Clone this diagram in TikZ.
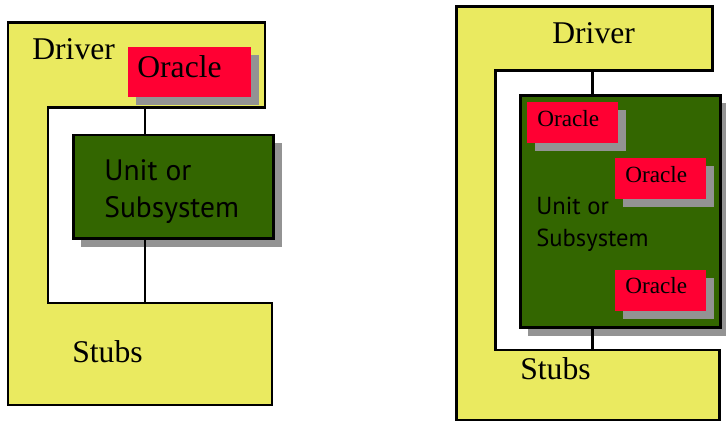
\documentclass[tikz,border=0pt]{standalone}
\usepackage{fontspec}
\setmainfont{Liberation Serif}
\newfontfamily\unitfont{PT Sans}
\usetikzlibrary{shadows}
\definecolor{drvyellow}{RGB}{234,234,96}
\definecolor{unitgreen}{RGB}{51,102,0}
\definecolor{oraclered}{RGB}{255,0,51}
\definecolor{shadowgray}{RGB}{147,147,147}

\begin{document}
\begin{tikzpicture}[
    x=0.02cm, y=-0.02cm,
    frame/.style={draw=black, line width=1.7pt, fill=drvyellow, line join=miter},
    wire/.style={draw=black, line width=1.7pt},
    boxshadow/.style={drop shadow={shadow xshift=0.16cm, shadow yshift=-0.16cm,
        fill=shadowgray, opacity=1}},
    unitbox/.style={rectangle, draw=black, line width=1.7pt, fill=unitgreen,
        minimum width=4.02cm, inner sep=0pt, boxshadow},
    oraclebox/.style={rectangle, fill=oraclered, inner sep=0pt, boxshadow},
    biglbl/.style={anchor=base west, inner sep=0pt, font=\fontsize{18}{20}\selectfont},
    smalllbl/.style={anchor=base west, inner sep=0pt, font=\fontsize{13.2}{15}\selectfont},
    unitlbl/.style={anchor=base west, inner sep=0pt, align=left},
]
\useasboundingbox (0,0) rectangle (726,421);

% === LEFT: oracle inside the driver ===
\draw[frame] (8,23) -- (265,23) -- (265,108) -- (48,108) -- (48,303)
    -- (272,303) -- (272,405) -- (8,405) -- cycle;
\coordinate (drvL) at (145,108);
\coordinate (stbL) at (145,303);

\node[oraclebox, minimum width=2.46cm, minimum height=1cm] (orL) at (189.5,72) {};
\node[unitbox, minimum height=2.08cm] (unitL) at (173.5,187) {};

\draw[wire] (drvL) -- (drvL |- unitL.north);
\draw[wire] (unitL.south -| stbL) -- (stbL);

\node[biglbl] (drvtxtL) at (32,60) {Driver};
\node[biglbl] (ortxtL) at (137,78) {Oracle};
\node[biglbl] (stbtxtL) at (72,363) {Stubs};
% base of a two-line node sits on its last line
\node[unitlbl, font=\unitfont\fontsize{16.8}{21.5}\selectfont] (untxtL) at (104,218)
    {Unit or\\Subsystem};

% === RIGHT: oracles inside the unit ===
\draw[frame] (456,7) -- (712,7) -- (712,71) -- (495,71) -- (495,350)
    -- (719,350) -- (719,420) -- (456,420) -- cycle;
\coordinate (drvR) at (592,71);
\coordinate (stbR) at (592,350);

\node[unitbox, minimum height=4.66cm] (unitR) at (620.5,211.5) {};

\draw[wire] (drvR) -- (drvR |- unitR.north);
\draw[wire] (unitR.south -| stbR) -- (stbR);

\node[oraclebox, minimum width=1.82cm, minimum height=0.82cm] (orR1) at (572.5,122.5) {};
\node[oraclebox, minimum width=1.82cm, minimum height=0.82cm] (orR2) at (660.5,179) {};
\node[oraclebox, minimum width=1.82cm, minimum height=0.82cm] (orR3) at (660.5,290.5) {};

\node[biglbl] (drvtxtR) at (552,44) {Driver};
\node[smalllbl] (ortxtR1) at (537,127) {Oracle};
\node[smalllbl] (ortxtR2) at (625,183) {Oracle};
\node[smalllbl] (ortxtR3) at (625,294) {Oracle};
\node[biglbl] (stbtxtR) at (520,380) {Stubs};
\node[unitlbl, font=\unitfont\fontsize{14}{18.7}\selectfont] (untxtR) at (536,247)
    {Unit or\\Subsystem};

\end{tikzpicture}
\end{document}
